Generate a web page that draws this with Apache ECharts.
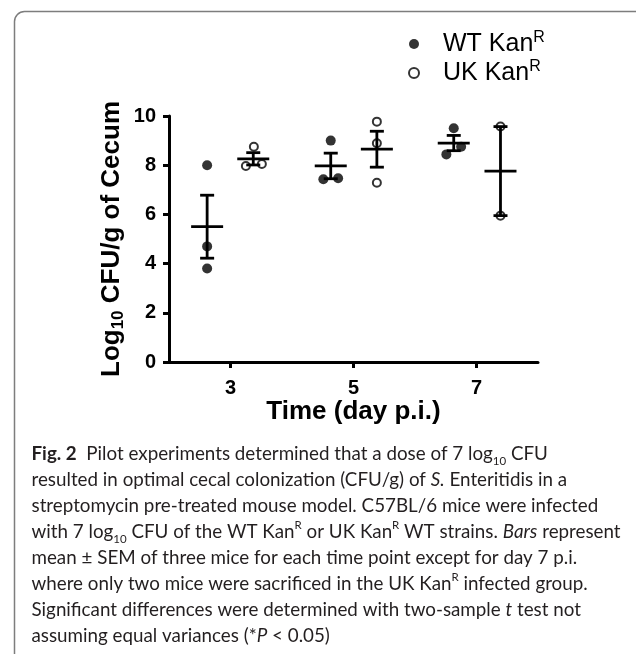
<!DOCTYPE html>
<html>
<head>
<meta charset="utf-8">
<script src="https://cdn.jsdelivr.net/npm/echarts@6/dist/echarts.min.js"></script>
<style>
  html, body { margin: 0; padding: 0; background: #fff; }
  #main { width: 636px; height: 654px; }
</style>
</head>
<body>
<div id="main"></div>
<script>
var chartDom = document.getElementById('main');
var myChart = echarts.init(chartDom);
var option;

// x ticks (day p.i.)
const days = [3, 5, 7];

// single mice: [jittered day position, log10 CFU/g]
const wtPoints = [
  [2.62, 8.0], [2.62, 4.7], [2.62, 3.8],
  [4.63, 9.0], [4.51, 7.43], [4.75, 7.47],
  [6.63, 9.5], [6.51, 8.44], [6.75, 8.75]
];
const ukPoints = [
  [3.25, 7.97], [3.51, 8.05], [3.38, 8.75],
  [5.38, 9.77], [5.38, 8.89], [5.38, 7.29],
  [7.39, 9.57], [7.39, 5.95]
];

// group mean +- SEM
const wtX = [2.62, 4.63, 6.63];
const wtMean = [5.5, 7.97, 8.9];
const wtSem = [1.28, 0.52, 0.31];
const ukX = [3.37, 5.38, 7.39];
const ukMean = [8.26, 8.65, 7.76];
const ukSem = [0.25, 0.73, 1.81];

const seriesNames = ['WT Kan', 'UK Kan'];

const captionLines = [
  '{b|Fig. 2}  Pilot experiments determined that a dose of 7 log{sub|10} CFU',
  'resulted in optimal cecal colonization (CFU/g) of {i|S.} Enteritidis in a',
  'streptomycin pre-treated mouse model. C57BL/6 mice were infected',
  'with 7 log{sub|10} CFU of the WT Kan{sup|R} or UK Kan{sup|R} WT strains. {i|Bars} represent',
  'mean \u00b1 SEM of three mice for each time point except for day 7 p.i.',
  'where only two mice were sacrificed in the UK Kan{sup|R} infected group.',
  'Significant differences were determined with two-sample {i|t} test not',
  'assuming equal variances (*{i|P} < 0.05)'
];

const ink = '#000';
const axisFont = 'Liberation Sans';
const capFont = 'Lato';

function errorBar(params, api) {
  const x = api.value(0);
  const m = api.value(1);
  const s = api.value(2);
  const c = api.coord([x, m]);
  const hi = api.coord([x, m + s]);
  const lo = api.coord([x, m - s]);
  const st = { stroke: ink, lineWidth: 2.8, fill: null };
  return {
    type: 'group',
    children: [
      { type: 'line', shape: { x1: c[0] - 16, y1: c[1], x2: c[0] + 16, y2: c[1] }, style: st },
      { type: 'line', shape: { x1: hi[0], y1: hi[1], x2: lo[0], y2: lo[1] }, style: st },
      { type: 'line', shape: { x1: hi[0] - 7, y1: hi[1], x2: hi[0] + 7, y2: hi[1] }, style: st },
      { type: 'line', shape: { x1: lo[0] - 7, y1: lo[1], x2: lo[0] + 7, y2: lo[1] }, style: st }
    ]
  };
}

option = {
  animation: false,
  backgroundColor: '#fff',
  graphic: [
    {
      type: 'rect',
      shape: { x: 14.5, y: 11.5, width: 630, height: 700, r: 10 },
      style: { fill: null, stroke: '#7d7d7d', lineWidth: 1.5 },
      silent: true
    }
  ],
  title: {
    left: 31.5,
    top: 441,
    padding: 0,
    text: captionLines.join('\n'),
    textStyle: {
      fontFamily: capFont,
      fontSize: 18.8,
      fontWeight: 'normal',
      lineHeight: 26,
      color: '#231f20',
      rich: {
        b: { fontWeight: 'bold', fontSize: 18.8, lineHeight: 26 },
        i: { fontStyle: 'italic', fontSize: 18.8, lineHeight: 26 },
        sub: { fontSize: 11.5, lineHeight: 12, verticalAlign: 'bottom' },
        sup: { fontSize: 11.5, lineHeight: 12, verticalAlign: 'top' }
      }
    }
  },
  legend: {
    orient: 'vertical',
    left: 408,
    top: 30,
    padding: 0,
    itemWidth: 10,
    itemHeight: 10,
    itemGap: 2.5,
    selectedMode: false,
    data: seriesNames,
    formatter: function (name) {
      return '{a|' + name + '}{s|R}';
    },
    textStyle: {
      fontFamily: axisFont,
      color: ink,
      rich: {
        a: { fontSize: 25, lineHeight: 28, padding: [0, 0, 0, 19] },
        s: { fontSize: 16, lineHeight: 15, verticalAlign: 'top' }
      }
    }
  },
  grid: {
    left: 169,
    right: 98,
    top: 116,
    bottom: 292,
    outerBoundsMode: 'none'
  },
  xAxis: {
    type: 'value',
    min: 2,
    max: 8,
    name: 'Time (day p.i.)',
    nameLocation: 'middle',
    nameGap: 37,
    nameMoveOverlap: false,
    nameTextStyle: { fontFamily: axisFont, fontSize: 26, fontWeight: 'bold', color: ink },
    axisLine: { lineStyle: { color: ink, width: 3 } },
    axisTick: { customValues: days, length: 6, lineStyle: { color: ink, width: 3 } },
    axisLabel: {
      customValues: days,
      margin: 16,
      fontFamily: axisFont,
      fontSize: 20,
      fontWeight: 'bold',
      color: ink
    },
    splitLine: { show: false }
  },
  yAxis: {
    type: 'value',
    min: 0,
    max: 10,
    interval: 2,
    name: '{a|Log}{sub|10}{a| CFU/g of Cecum}',
    nameLocation: 'middle',
    nameGap: 42,
    nameMoveOverlap: false,
    nameTextStyle: {
      fontFamily: axisFont,
      fontWeight: 'bold',
      color: ink,
      rich: {
        a: { fontSize: 26, lineHeight: 30 },
        sub: { fontSize: 17, lineHeight: 17, verticalAlign: 'bottom' }
      }
    },
    axisLine: { show: true, lineStyle: { color: ink, width: 3 } },
    axisTick: { show: true, length: 6, lineStyle: { color: ink, width: 3 } },
    axisLabel: {
      margin: 13,
      fontFamily: axisFont,
      fontSize: 20,
      fontWeight: 'bold',
      color: ink
    },
    splitLine: { show: false }
  },
  series: [
    {
      name: seriesNames[0],
      type: 'scatter',
      symbol: 'circle',
      symbolSize: 10,
      itemStyle: { color: ink },
      emphasis: { disabled: true },
      data: wtPoints,
      z: 2
    },
    {
      name: seriesNames[1],
      type: 'scatter',
      symbol: 'circle',
      symbolSize: 8,
      itemStyle: { color: 'rgba(255,255,255,0)', borderColor: ink, borderWidth: 2 },
      emphasis: { disabled: true },
      data: ukPoints,
      z: 2
    },
    {
      type: 'custom',
      renderItem: errorBar,
      silent: true,
      data: wtX.map((x, i) => [x, wtMean[i], wtSem[i]]),
      z: 3
    },
    {
      type: 'custom',
      renderItem: errorBar,
      silent: true,
      data: ukX.map((x, i) => [x, ukMean[i], ukSem[i]]),
      z: 3
    }
  ]
};

myChart.setOption(option);
</script>
</body>
</html>
